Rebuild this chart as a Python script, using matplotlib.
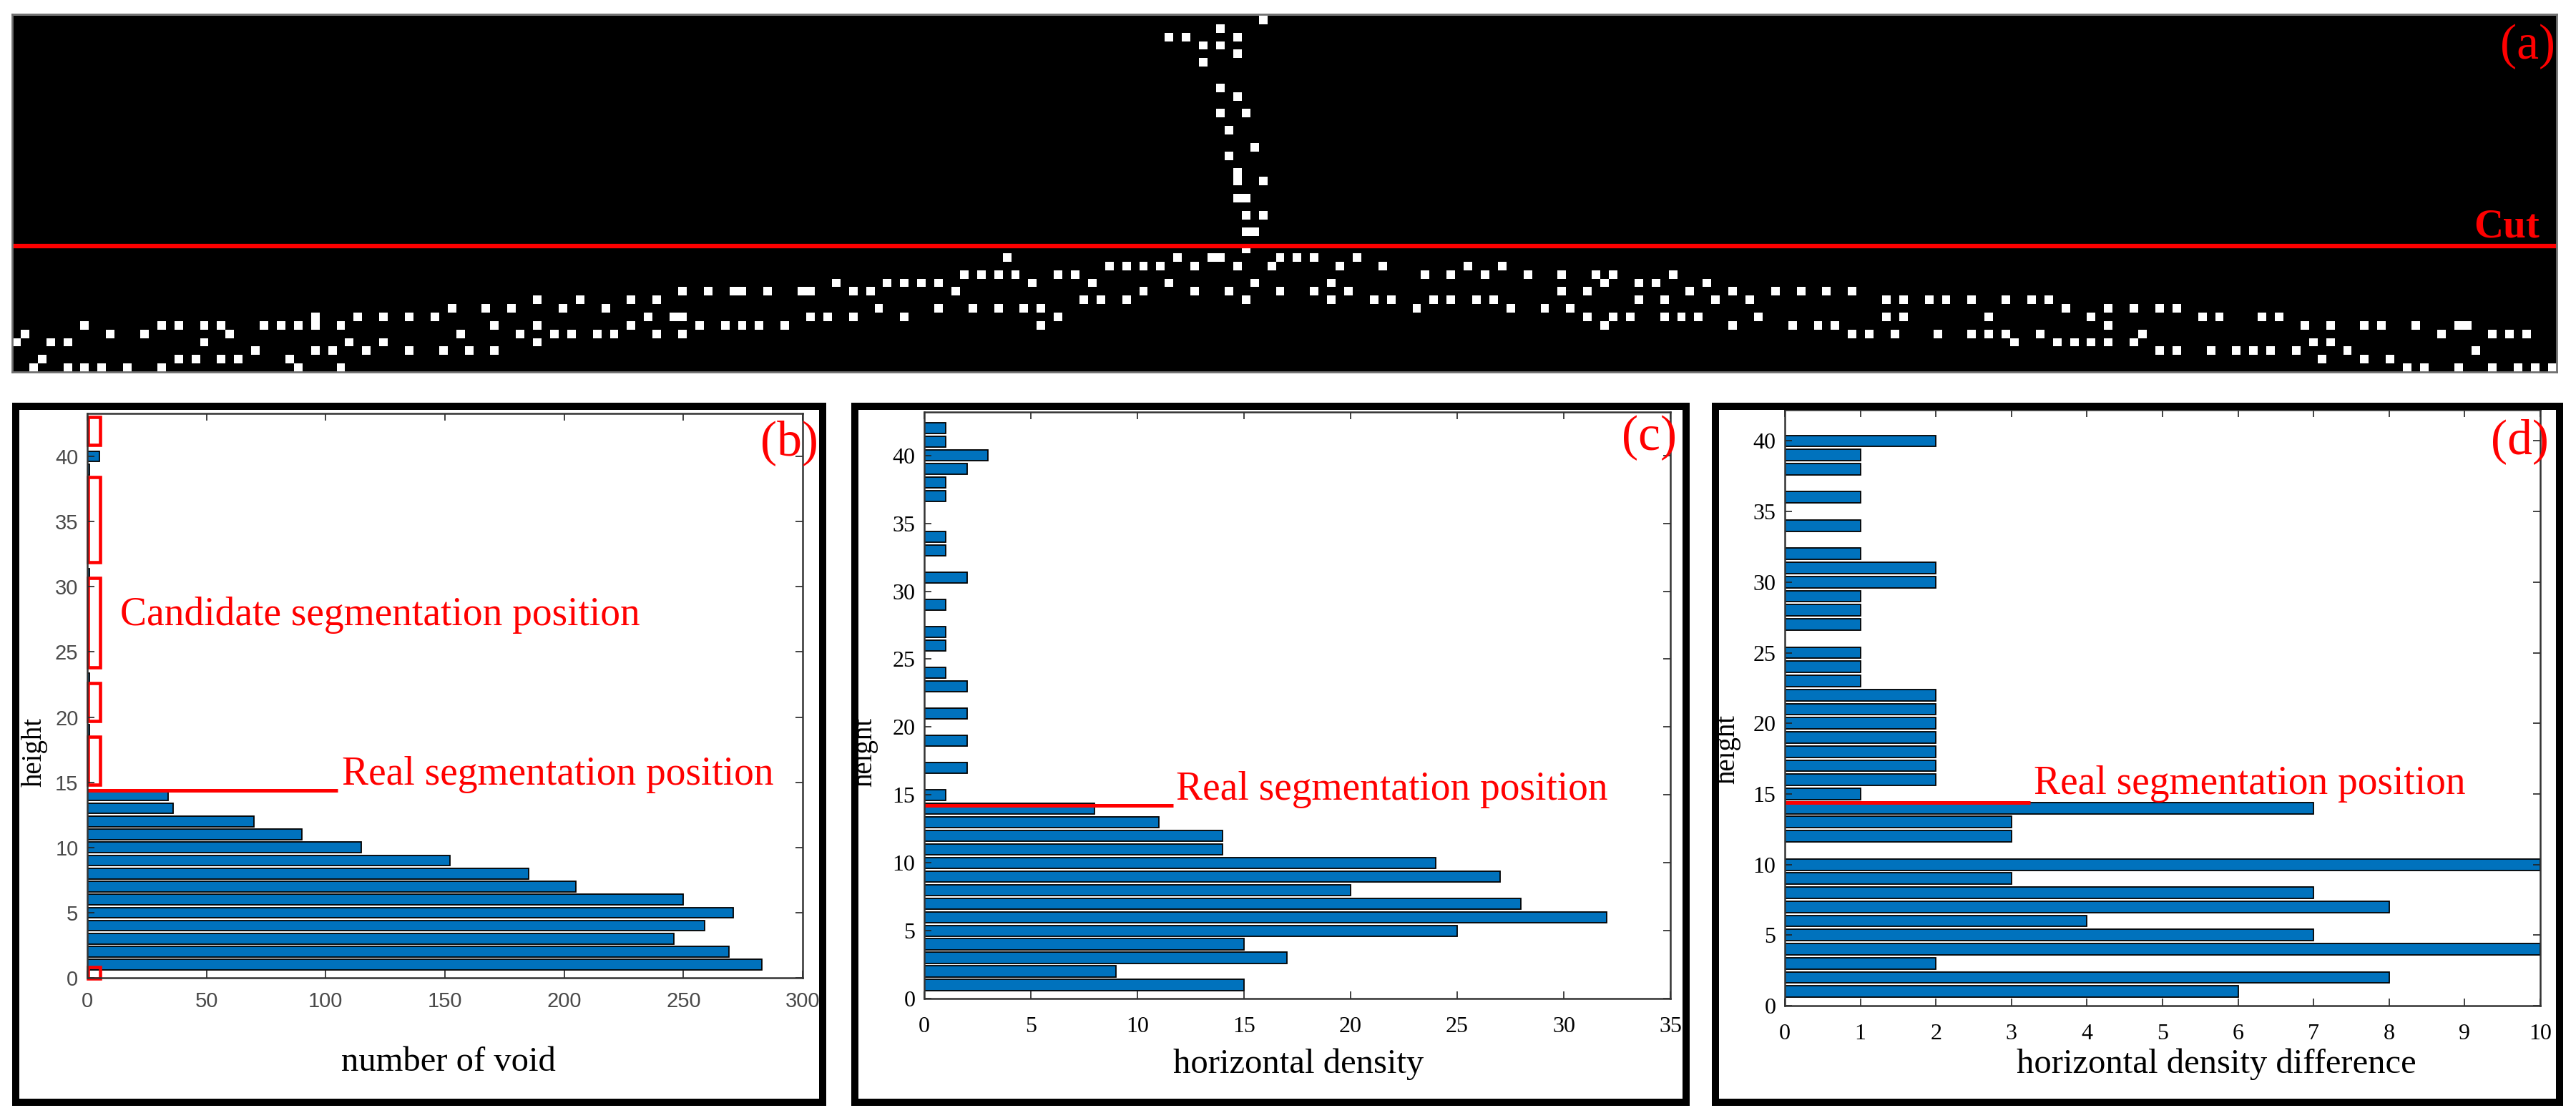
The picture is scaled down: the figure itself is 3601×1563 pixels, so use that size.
import numpy as np
import matplotlib
matplotlib.use('Agg')
import matplotlib.pyplot as plt
from matplotlib.patches import Rectangle

W, H = 3601, 1563
SERIF = 'Liberation Serif'
SANS = 'Liberation Sans'
BLUE = '#0072BD'

# ---- (a) binary image: column indices of white pixels, rows counted from bottom
n_cols = 298
row01 = [2, 6, 8, 10, 13, 17, 33, 38, 280, 282, 286, 290, 293, 295, 297]
row02 = [3, 19, 21, 24, 26, 32, 270, 275, 278]
row03 = [28, 35, 37, 41, 46, 50, 53, 56, 251, 253, 257, 260, 262, 264, 267,
         273, 288]
row04 = [0, 4, 6, 22, 39, 43, 61, 234, 239, 241, 243, 245, 248, 269, 271]
row05 = [1, 11, 15, 25, 52, 59, 63, 65, 68, 70, 75, 78, 215, 217, 220, 225,
         229, 231, 233, 237, 249, 284, 290, 292, 294]
row06 = [8, 17, 19, 22, 24, 29, 31, 33, 35, 38, 56, 61, 72, 80, 83, 85, 87,
         90, 120, 186, 201, 208, 211, 213, 245, 268, 271, 275, 277, 281, 286,
         287]
row07 = [35, 40, 43, 46, 49, 74, 77, 78, 93, 95, 98, 104, 122, 184, 187, 189,
         193, 195, 197, 204, 219, 221, 231, 243, 256, 258, 263, 265]
row08 = [51, 55, 58, 64, 69, 101, 108, 112, 115, 118, 120, 164, 175, 179, 182,
         240, 245, 248, 251, 253]
row09 = [61, 66, 72, 75, 125, 127, 130, 144, 154, 159, 161, 166, 168, 171,
         173, 190, 193, 199, 203, 219, 221, 224, 226, 229, 233, 236, 238]
row10 = [78, 81, 84, 85, 88, 92, 93, 98, 100, 110, 132, 138, 142, 148, 152,
         156, 181, 184, 196, 201, 206, 209, 212, 215]
row11 = [96, 102, 104, 106, 108, 119, 126, 135, 145, 154, 186, 190, 192, 198]
row12 = [111, 113, 115, 117, 122, 124, 165, 168, 172, 177, 181, 185, 187, 194]
row13 = [128, 130, 132, 134, 138, 143, 147, 155, 160, 170, 174]
row14 = [116, 136, 140, 141, 148, 150, 152, 157]
row15 = [144]
lower_rows = [row01, row02, row03, row04, row05, row06, row07, row08, row09,
              row10, row11, row12, row13, row14, row15]
# the thin vertical stroke above the cut
stem_row = [17, 17, 19, 19, 21, 21, 23, 23, 24, 26, 27, 29, 31, 31, 33, 34,
            37, 38, 39, 39, 40, 40, 40, 41, 42]
stem_col = [144, 145, 144, 146, 143, 144, 143, 146, 143, 142, 145, 142, 141,
            144, 143, 141, 139, 143, 139, 141, 135, 137, 143, 141, 146]
cut_row = 15.37

# ---- (b) number of void
height_b = [1, 2, 3, 4, 5, 6, 7, 8, 9, 10, 11, 12, 13, 14, 19, 23, 31, 39, 40]
void_b = [283, 269, 246, 259, 271, 250, 205, 185, 152, 115, 90, 70, 36, 34,
          1, 1, 1, 1, 5]
candidate_spans = [(-0.05, 0.85), (14.8, 18.5), (19.7, 22.6), (23.8, 30.7),
                   (31.9, 38.4), (40.9, 43.0)]

# ---- (c) horizontal density
height_c = [1, 2, 3, 4, 5, 6, 7, 8, 9, 10, 11, 12, 13, 14, 15, 17, 19, 21, 23,
            24, 26, 27, 29, 31, 33, 34, 37, 38, 39, 40, 41, 42]
density_c = [15, 9, 17, 15, 25, 32, 28, 20, 27, 24, 14, 14, 11, 8, 1, 2, 2, 2,
             2, 1, 1, 1, 1, 2, 1, 1, 1, 1, 2, 3, 1, 1]

# ---- (d) horizontal density difference
height_d = [1, 2, 3, 4, 5, 6, 7, 8, 9, 10, 12, 13, 14, 15, 16, 17, 18, 19, 20,
            21, 22, 23, 24, 25, 27, 28, 29, 30, 31, 32, 34, 36, 38, 39, 40]
diff_d = [6, 8, 2, 10, 7, 4, 8, 7, 3, 10, 3, 3, 7, 1, 2, 2, 2, 2, 2, 2, 2, 1,
          1, 1, 1, 1, 1, 2, 2, 1, 1, 1, 1, 1, 2]


def px_box(x0, y0, x1, y1):
    """pixel box (top-left origin) -> figure fraction rect"""
    return [x0 / W, 1 - y1 / H, (x1 - x0) / W, (y1 - y0) / H]


fig = plt.figure(figsize=(W / 100, H / 100), dpi=100)

# ------------------------------------------------------------------ (a)
ax_a = fig.add_axes(px_box(17, 20, 3574, 520))
img = np.zeros((42, n_cols))
for r, cols in enumerate(lower_rows, start=1):
    img[r - 1, cols] = 1
img[np.array(stem_row) - 1, stem_col] = 1
ax_a.imshow(img, cmap='gray', origin='lower', aspect='auto',
            interpolation='nearest', extent=(-0.5, n_cols - 0.5, 0.5, 42.5))
ax_a.set_xlim(-0.5, n_cols - 0.5)
ax_a.set_ylim(0.5, 42.75)
ax_a.axhline(cut_row, color='red', lw=4.5)
ax_a.text(295.5, 16.4, 'Cut', color='red', fontsize=41, family=SERIF,
          fontweight='bold', ha='right', va='baseline')
ax_a.text(297.3, 37.5, '(a)', color='red', fontsize=50, family=SERIF,
          ha='right', va='baseline')
ax_a.set_xticks([])
ax_a.set_yticks([])
for s in ax_a.spines.values():
    s.set_color('#707070')
    s.set_linewidth(2)


def style_axes(ax, tick_font, tick_color, xpad):
    ax.tick_params(direction='in', top=True, right=True, length=7, width=1.2,
                   labelsize=23, colors='#222222')
    ax.tick_params(axis='x', pad=xpad)
    ax.tick_params(axis='y', pad=9)
    for lbl in ax.get_xticklabels() + ax.get_yticklabels():
        lbl.set_fontfamily(tick_font)
        lbl.set_color(tick_color)
    for s in ax.spines.values():
        s.set_color('#333333')
        s.set_linewidth(1.8)


def bars(ax, y, x):
    ax.barh(y, x, height=0.8, color=BLUE, edgecolor='black', linewidth=1.3)


# ------------------------------------------------------------------ (b)
ax_b = fig.add_axes(px_box(122, 578, 1122, 1367))
bars(ax_b, height_b, void_b)
ax_b.set_xlim(0, 300)
ax_b.set_ylim(0, 43.3)
ax_b.set_xticks(np.arange(0, 301, 50))
ax_b.set_yticks(np.arange(0, 41, 5))
style_axes(ax_b, SANS, '#4a4a4a', 14)
for lbl in ax_b.get_xticklabels() + ax_b.get_yticklabels():
    lbl.set_fontsize(21)
for y0, y1 in candidate_spans:
    ax_b.add_patch(Rectangle((0.4, y0), 5.0, y1 - y0, fill=False,
                             edgecolor='red', lw=3.3, clip_on=False))
ax_b.plot([0, 105], [14.4, 14.4], color='red', lw=3.6, solid_capstyle='butt')
ax_b.text(13.8, 27.8, 'Candidate segmentation position', color='red',
          fontsize=40, family=SERIF, va='center')
ax_b.text(106.8, 15.6, 'Real segmentation position', color='red',
          fontsize=40, family=SERIF, va='center')
ax_b.text(306.5, 40.1, '(b)', color='red', fontsize=50, family=SERIF,
          ha='right', va='baseline')
ax_b.set_xlabel('number of void', family=SERIF, fontsize=35)
ax_b.set_ylabel('height', family=SERIF, fontsize=28)
ax_b.xaxis.set_label_coords(0.505, -0.122)
ax_b.yaxis.set_label_coords(-0.055, 0.40)

# ------------------------------------------------------------------ (c)
ax_c = fig.add_axes(px_box(1292, 576, 2335, 1396))
bars(ax_c, height_c, density_c)
ax_c.set_xlim(0, 35)
ax_c.set_ylim(0, 43.2)
ax_c.set_xticks(np.arange(0, 36, 5))
ax_c.set_yticks(np.arange(0, 41, 5))
style_axes(ax_c, SERIF, 'black', 18)
ax_c.plot([0, 11.67], [14.2, 14.2], color='red', lw=3.6,
          solid_capstyle='butt')
ax_c.text(11.8, 15.4, 'Real segmentation position', color='red',
          fontsize=40, family=SERIF, va='center')
ax_c.text(35.3, 40.4, '(c)', color='red', fontsize=50, family=SERIF,
          ha='right', va='baseline')
ax_c.set_xlabel('horizontal density', family=SERIF, fontsize=35)
ax_c.set_ylabel('height', family=SERIF, fontsize=28)
ax_c.xaxis.set_label_coords(0.502, -0.085)
ax_c.yaxis.set_label_coords(-0.062, 0.42)

# ------------------------------------------------------------------ (d)
ax_d = fig.add_axes(px_box(2495, 573, 3551, 1406))
bars(ax_d, height_d, diff_d)
ax_d.set_xlim(0, 10)
ax_d.set_ylim(0, 42.2)
ax_d.set_xticks(np.arange(0, 11, 1))
ax_d.set_yticks(np.arange(0, 41, 5))
style_axes(ax_d, SERIF, 'black', 18)
ax_d.plot([0, 3.25], [14.4, 14.4], color='red', lw=3.6,
          solid_capstyle='butt', clip_on=False)
ax_d.text(3.3, 15.7, 'Real segmentation position', color='red',
          fontsize=40, family=SERIF, va='center')
ax_d.text(10.11, 39.1, '(d)', color='red', fontsize=50, family=SERIF,
          ha='right', va='baseline')
ax_d.set_xlabel('horizontal density difference', family=SERIF, fontsize=35)
ax_d.set_ylabel('height', family=SERIF, fontsize=28)
ax_d.xaxis.set_label_coords(0.571, -0.072)
ax_d.yaxis.set_label_coords(-0.058, 0.43)

# thick frames around the three lower panels
for x0, x1 in [(22, 1150), (1195, 2357), (2398, 3578)]:
    fig.add_artist(Rectangle((x0 / W, 1 - 1541 / H), (x1 - x0) / W,
                             (1541 - 568) / H, transform=fig.transFigure,
                             fill=False, edgecolor='black', lw=7.2))

fig.savefig('out.png', dpi=100)
plt.close(fig)
